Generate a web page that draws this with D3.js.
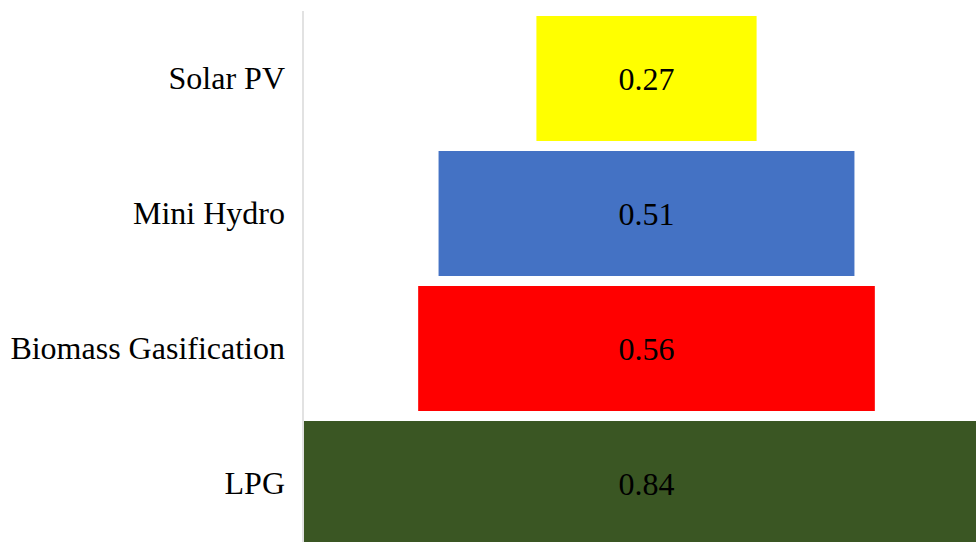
<!DOCTYPE html>
<html><head><meta charset="utf-8">
<script src="https://cdn.jsdelivr.net/npm/d3@7"></script>
<style>html,body{margin:0;padding:0;background:#fff;overflow:hidden}</style>
</head><body>
<svg id="chart" width="976" height="542"></svg>
<script>
const categories = ["Solar PV", "Mini Hydro", "Biomass Gasification", "LPG"];
const values = [0.27, 0.51, 0.56, 0.84];
const colors = ["#FFFF00", "#4472C4", "#FF0000", "#3A5623"];

const svg = d3.select("#chart");
const axisX = 303;
const centerX = 646.5;

const y = d3.scaleBand().domain(categories).range([11, 551])
  .paddingInner(10/135).paddingOuter(5/135);
// width scale: value -> full bar width
const w = d3.scaleLinear().domain([0, 0.84]).range([0, 2*(centerX - axisX - 1)]);

const g = svg.append("g");
g.selectAll("rect.bar").data(categories).enter().append("rect")
  .attr("class", "bar")
  .attr("x", (d,i) => centerX - w(values[i])/2)
  .attr("y", d => y(d))
  .attr("width", (d,i) => w(values[i]))
  .attr("height", y.bandwidth())
  .attr("fill", (d,i) => colors[i]);

g.selectAll("text.val").data(categories).enter().append("text")
  .attr("class", "val")
  .attr("x", centerX)
  .attr("y", d => y(d) + y.bandwidth()/2)
  .attr("text-anchor", "middle")
  .attr("dominant-baseline", "central")
  .attr("font-family", "'Liberation Serif','Times New Roman',serif")
  .attr("font-size", 32)
  .attr("fill", "#000")
  .text((d,i) => values[i].toFixed(2));

const axis = svg.append("g").attr("transform", `translate(${axisX},0)`)
  .call(d3.axisLeft(y).tickSize(0).tickPadding(18));
axis.select(".domain").attr("stroke", "#d9d9d9").attr("stroke-width", 1.5)
  .attr("d", "M0,11V542");
axis.selectAll("text")
  .attr("font-family", "'Liberation Serif','Times New Roman',serif")
  .attr("font-size", 32).attr("fill", "#000");
</script>
</body></html>
